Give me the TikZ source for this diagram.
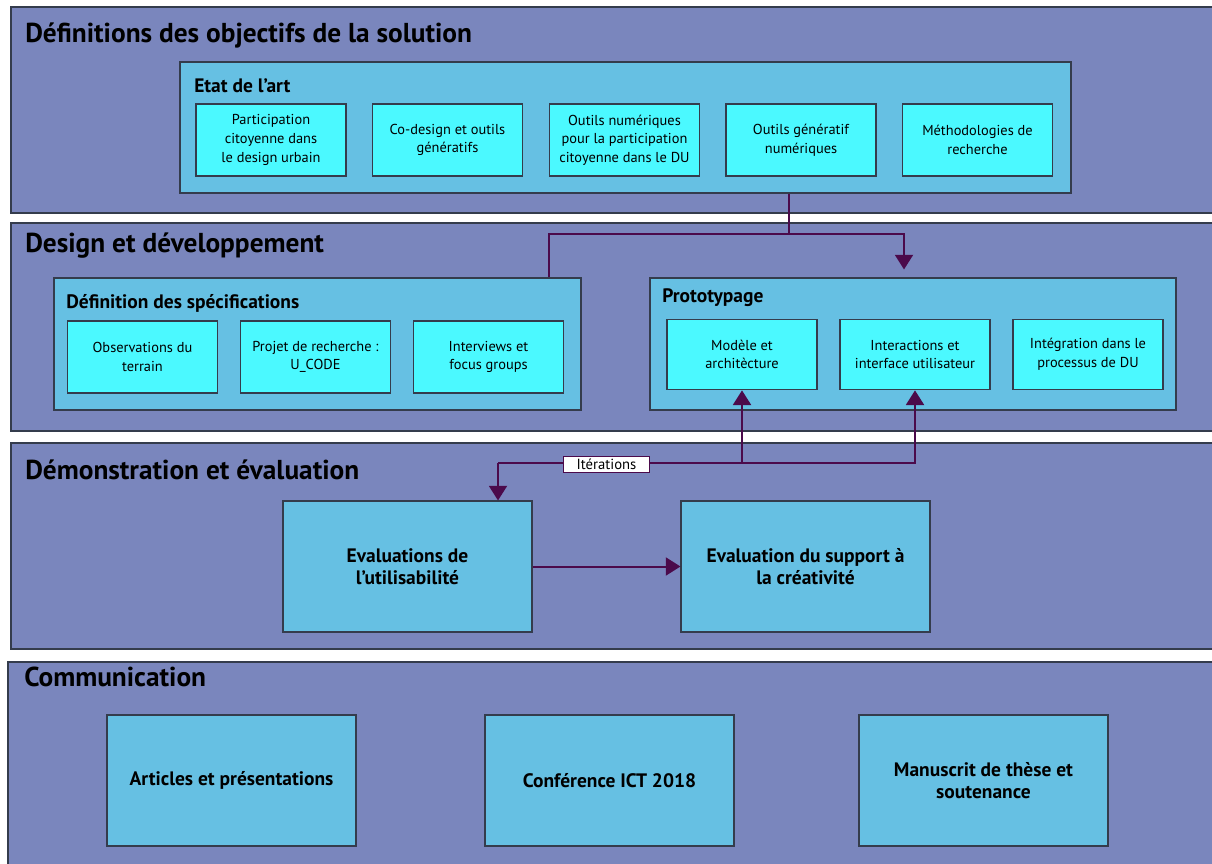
\documentclass[tikz,border=0pt]{standalone}
\usepackage{fontspec}
\setmainfont{PT Sans}
\usepackage{tikz}
\usetikzlibrary{arrows.meta}
\definecolor{bandc}{RGB}{122,134,189}
\definecolor{contc}{RGB}{102,192,227}
\definecolor{cyanc}{RGB}{75,249,255}
\definecolor{edgec}{RGB}{52,60,76}
\definecolor{flowc}{RGB}{75,10,75}

\begin{document}
\begin{tikzpicture}[x=0.75pt,y=-0.75pt,
  band/.style={draw=edgec, line width=1pt, fill=bandc, inner sep=0, minimum width=901.5pt},
  cont/.style={draw=edgec, line width=0.8pt, fill=contc, inner sep=0},
  sub/.style={draw=edgec, line width=0.8pt, fill=cyanc, inner sep=0, align=center,
    font=\fontsize{10.8}{14}\selectfont, minimum width=112.5pt, minimum height=54pt},
  big/.style={draw=edgec, line width=0.8pt, fill=contc, inner sep=0, align=center,
    font=\fontsize{14.6}{16.8}\selectfont\bfseries, minimum width=186.75pt, minimum height=98.25pt},
  bandtitle/.style={anchor=base west, inner sep=0, font=\fontsize{20.5}{24}\selectfont\bfseries},
  conttitle/.style={anchor=base west, inner sep=0, font=\fontsize{14.6}{17}\selectfont\bfseries},
  link/.style={draw=flowc, line width=1.5pt},
  flow/.style={link, -{Triangle[width=13.5pt,length=11pt]}}
]
\useasboundingbox (0,0) rectangle (1212,863);
\clip (0,0) rectangle (1212,863);

% bands
\node[band, minimum height=154.5pt] (defs) at (612,110) {};
\node[band, minimum height=156pt] (dev) at (612,327) {};
\node[band, minimum height=154.5pt] (demo) at (612,546) {};
\node[band, minimum height=163.5pt, minimum width=903.75pt] (comm) at (610.5,771) {};
\node[bandtitle] (defs-t) at (25,43) {Définitions des objectifs de la solution};
\node[bandtitle] (dev-t) at (25,252) {Design et développement};
\node[bandtitle] (demo-t) at (25,479) {Démonstration et évaluation};
\node[bandtitle] (comm-t) at (24,686) {Communication};

% etat de l'art
\node[cont, minimum width=668.25pt, minimum height=98.25pt] (etat) at (625.5,127.5) {};
\node[conttitle] (etat-t) at (194,93) {Etat de l’art};
\node[sub] (art1) at (271,140) {Participation\\citoyenne dans\\le design urbain};
\node[sub] (art2) at (447.5,140) {Co-design et outils\\génératifs};
\node[sub] (art3) at (624.5,140) {Outils numériques\\pour la participation\\citoyenne dans le DU};
\node[sub] (art4) at (801,140) {Outils génératif\\numériques};
\node[sub] (art5) at (977.5,140) {Méthodologies de\\recherche};

% specifications
\node[cont, minimum width=395.25pt, minimum height=99pt] (spec) at (317.5,344) {};
\node[conttitle] (spec-t) at (66,308) {Définition des spécifications};
\node[sub, minimum width=113pt] (spec1) at (142.5,357) {Observations du\\terrain};
\node[sub, minimum width=113pt] (spec2) at (315.5,357) {Projet de recherche :\\U\_CODE};
\node[sub, minimum width=113pt] (spec3) at (488.5,357) {Interviews et\\focus groups};

% prototypage
\node[cont, minimum width=394.5pt, minimum height=99pt] (proto) at (913,344) {};
\node[conttitle] (proto-t) at (662,302) {Prototypage};
\node[sub, minimum height=53pt] (proto1) at (742,354.5) {Modèle et\\architècture};
\node[sub, minimum height=53pt] (proto2) at (915,354.5) {Interactions et\\interface utilisateur};
\node[sub, minimum height=53pt] (proto3) at (1088,354.5) {Intégration dans le\\processus de DU};

% evaluation
\node[big] (usab) at (407.5,566.5) {Evaluations de\\l’utilisabilité};
\node[big] (crea) at (805.5,566.5) {Evaluation du support à\\la créativité};

% communication
\node[big] (pub) at (231.5,780.5) {Articles et présentations};
\node[big] (ict) at (609.5,780.5) {Conférence ICT 2018};
\node[big] (these) at (983.5,780.5) {Manuscrit de thèse et\\soutenance};

% connectors
\coordinate (split) at (789,234);
\coordinate (spec-in) at (549,0);
\coordinate (proto-in) at (904,0);
\draw[link] (split |- etat.south) -- (split);
\draw[link] (split) -| (spec-in |- spec.north);
\draw[flow, shorten >=6pt] (split) -| (proto-in |- proto.north);

\coordinate (iter) at (498,463);
\draw[flow] (iter) -| (proto2.south);
\draw[flow] (proto1.south |- iter) -- (proto1.south);
\draw[flow] (iter) -- (iter |- usab.north);
\node[draw=flowc, fill=white, line width=0.6pt, inner sep=0, minimum width=65pt,
  minimum height=12pt, font=\fontsize{11}{12}\selectfont] (iter-l) at (606.5,464) {Itérations};
\draw[flow] (usab) -- (crea);
\end{tikzpicture}
\end{document}
